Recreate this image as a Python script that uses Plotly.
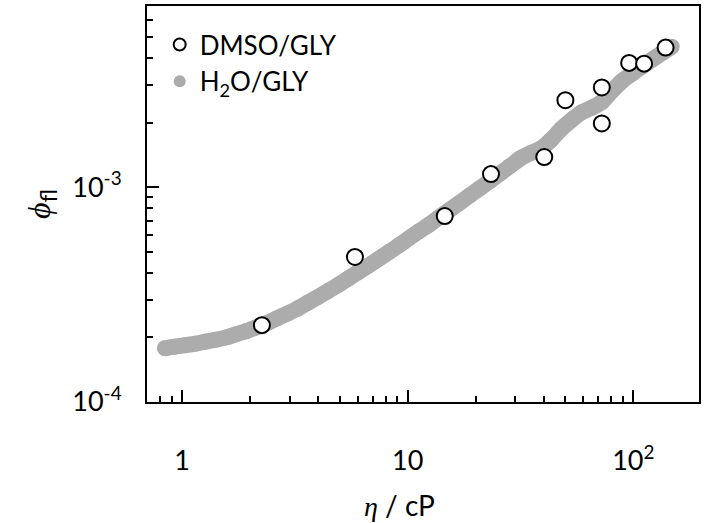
import plotly.graph_objects as go

# H2O/glycerol: fluorescence quantum yield vs viscosity (dense measurement series)
h2o_eta = [0.84, 0.93, 1.04, 1.15, 1.27, 1.41, 1.57, 1.74, 1.93, 2.14,
           2.37, 2.63, 2.92, 3.24, 3.59, 3.98, 4.42, 4.90, 5.43, 6.03,
           6.68, 7.41, 8.22, 9.12, 10.1, 11.2, 12.5, 13.8, 15.3, 17.0,
           18.8, 20.9, 23.2, 25.7, 28.5, 31.6, 35.1, 38.9, 43.2, 47.9,
           53.1, 58.9, 65.3, 72.4, 80.4, 89.1, 98.9, 109.6, 121.6, 134.9,
           147.9]
h2o_phi = [1.78e-4, 1.81e-4, 1.84e-4, 1.87e-4, 1.91e-4, 1.95e-4, 2.00e-4, 2.07e-4, 2.14e-4, 2.23e-4,
           2.33e-4, 2.45e-4, 2.58e-4, 2.72e-4, 2.89e-4, 3.07e-4, 3.28e-4, 3.50e-4, 3.75e-4, 4.02e-4,
           4.31e-4, 4.63e-4, 4.98e-4, 5.36e-4, 5.78e-4, 6.23e-4, 6.72e-4, 7.26e-4, 7.84e-4, 8.47e-4,
           9.16e-4, 9.91e-4, 1.073e-3, 1.162e-3, 1.259e-3, 1.365e-3, 1.446e-3, 1.516e-3, 1.664e-3, 1.871e-3,
           2.056e-3, 2.234e-3, 2.348e-3, 2.496e-3, 2.812e-3, 3.128e-3, 3.390e-3, 3.664e-3, 3.949e-3, 4.245e-3,
           4.519e-3]

# DMSO/glycerol mixtures
dmso_eta = [2.26, 5.84, 14.6, 23.4, 40.3, 50.0, 72.5, 72.5, 95.8, 111.6, 139.0]
dmso_phi = [2.28e-4, 4.74e-4, 7.35e-4, 1.153e-3, 1.384e-3, 2.547e-3, 2.92e-3, 1.985e-3, 3.80e-3, 3.77e-3, 4.48e-3]

# axis ticks
x_major = [1, 10, 100]
x_major_text = ["1", "10", "10<sup>2</sup>"]
x_minor = [0.8, 0.9, 2, 3, 4, 5, 6, 7, 8, 9, 20, 30, 40, 50, 60, 70, 80, 90]
y_major = [1e-4, 1e-3]
y_major_text = ["10<sup>-4</sup>", "10<sup>-3</sup>"]
y_minor = [2e-4, 3e-4, 4e-4, 5e-4, 6e-4, 7e-4, 8e-4, 9e-4, 2e-3, 3e-3, 4e-3, 5e-3, 6e-3, 7e-3]

FONT = "Lato"
MATH = "Liberation Serif"
GREY = "#acacac"
BAND = 16

fig = go.Figure()
# the H2O/GLY points are so dense that they merge into one thick band
fig.add_trace(go.Scatter(
    x=h2o_eta, y=h2o_phi, mode="lines", showlegend=False, hoverinfo="skip",
    line=dict(width=BAND, color=GREY, shape="spline", smoothing=0.8),
))
fig.add_trace(go.Scatter(
    x=h2o_eta, y=h2o_phi, mode="markers", name="H<sub>2</sub>O/GLY",
    marker=dict(size=BAND, color=GREY, line=dict(width=0)),
    legendrank=2,
))
fig.add_trace(go.Scatter(
    x=dmso_eta, y=dmso_phi, mode="markers", name="DMSO/GLY",
    marker=dict(size=16, color="white", line=dict(width=2, color="black")),
    legendrank=1,
))

axis_common = dict(
    type="log", showgrid=False, zeroline=False,
    showline=True, linecolor="black", linewidth=2, mirror=True,
    ticks="inside", ticklen=12, tickwidth=1.5, tickcolor="black",
    tickfont=dict(family=FONT, size=27, color="black"),
)

fig.update_xaxes(
    **axis_common,
    range=[-0.155, 2.291],
    tickmode="array", tickvals=x_major, ticktext=x_major_text,
    minor=dict(tickmode="array", tickvals=x_minor, ticks="inside", ticklen=6,
               tickwidth=1.5, tickcolor="black"),
    ticklabelstandoff=34,
)
fig.update_yaxes(
    **axis_common,
    range=[-4, -2.155],
    tickmode="array", tickvals=y_major, ticktext=y_major_text,
    minor=dict(tickmode="array", tickvals=y_minor, ticks="inside", ticklen=6,
               tickwidth=1.5, tickcolor="black"),
    ticklabelstandoff=18,
    title=dict(
        text=f"<span style='font-family:{MATH}'><i>ϕ</i></span><sub>fl</sub>",
        font=dict(family=FONT, size=32, color="black"),
        standoff=12,
    ),
)

fig.add_annotation(
    text=f"<span style='font-family:{MATH}'><i>η</i></span> / cP",
    xref="paper", yref="paper", x=0.457, y=0,
    yshift=-103, xanchor="center", yanchor="middle", showarrow=False,
    font=dict(family=FONT, size=28, color="black"),
)

fig.update_layout(
    width=704, height=523,
    margin=dict(l=147, r=3, t=6, b=121),
    paper_bgcolor="white", plot_bgcolor="white",
    showlegend=True,
    legend=dict(x=0.023, y=0.962, xanchor="left", yanchor="top",
                bgcolor="rgba(0,0,0,0)", itemsizing="constant",
                font=dict(family=FONT, size=26, color="black"),
                tracegroupgap=0, itemwidth=30),
)

fig.write_html("out.html")
